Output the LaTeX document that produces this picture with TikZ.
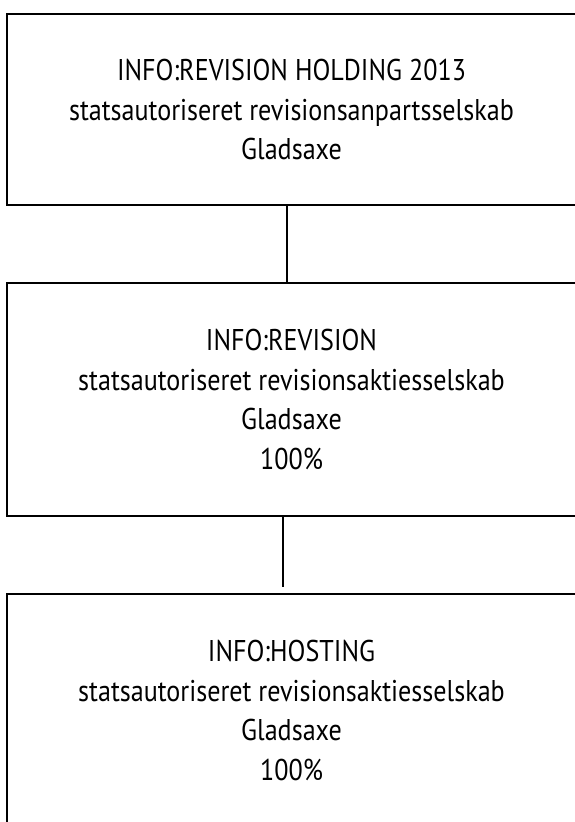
\documentclass[tikz,border=0pt]{standalone}
\usepackage{fontspec}
\setmainfont{PT Sans}[FakeStretch=0.87]
\begin{document}
\begin{tikzpicture}[x=1pt,y=-1pt,
    company/.style={draw,line width=2.4pt,minimum width=569pt,align=center,inner sep=0pt,
      font=\fontsize{30}{39.5}\selectfont},
    link/.style={line width=1.8pt}]
  \useasboundingbox (0,0) rectangle (574,822);
  \node[company,minimum height=191pt] (holding) at (291.5,109.5) {INFO:REVISION HOLDING 2013\\statsautoriseret revisionsanpartsselskab\\Gladsaxe};
  \node[company,minimum height=233pt] (revision) at (291.5,399.5) {INFO:REVISION\\statsautoriseret revisionsaktiesselskab\\Gladsaxe\\100\%};
  \node[company,minimum height=233pt] (hosting) at (291.5,710.5) {INFO:HOSTING\\statsautoriseret revisionsaktiesselskab\\Gladsaxe\\100\%};
  \coordinate (upper) at (287,0);
  \coordinate (lower) at (283,0);
  \draw[link] (upper |- holding.south) -- (upper |- revision.north);
  \draw[link] (lower |- revision.south) -- ([yshift=6pt]lower |- hosting.north);
\end{tikzpicture}
\end{document}
